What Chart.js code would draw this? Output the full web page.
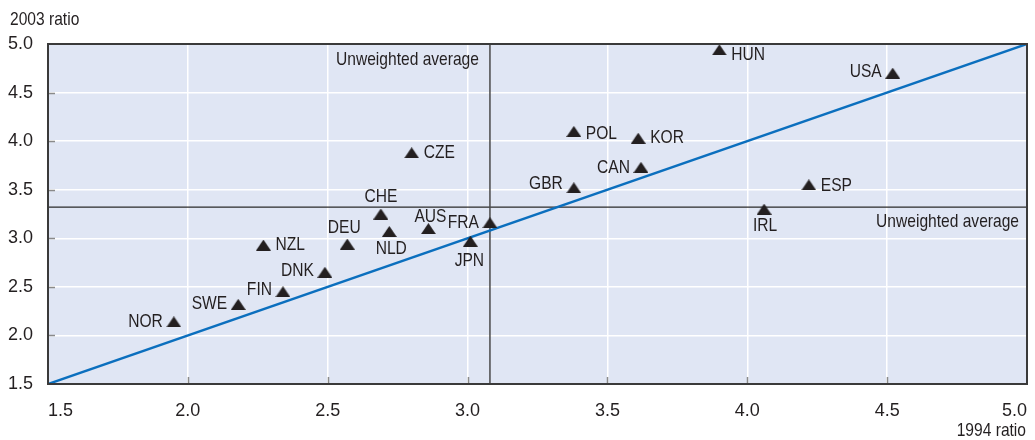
<!DOCTYPE html>
<html>
<head>
<meta charset="utf-8">
<script src="https://cdn.jsdelivr.net/npm/chart.js@4/dist/chart.umd.min.js"></script>
<style>
  html, body { margin: 0; padding: 0; background: #ffffff; }
  #wrap { width: 1035px; height: 440px; }
</style>
</head>
<body>
<div id="wrap"><canvas id="c" width="1035" height="440"></canvas></div>
<script>
// ---- Data ----
const countries = ['HUN','USA','POL','KOR','CZE','CAN','GBR','ESP','IRL','CHE','FRA','NLD','AUS','DEU','NZL','JPN','DNK','FIN','SWE','NOR'];
const ratio1994 = [3.90, 4.52, 3.38, 3.61, 2.80, 3.62, 3.38, 4.22, 4.06, 2.69, 3.08, 2.72, 2.86, 2.57, 2.27, 3.01, 2.49, 2.34, 2.18, 1.95];
const ratio2003 = [4.94, 4.70, 4.10, 4.03, 3.88, 3.73, 3.52, 3.55, 3.30, 3.25, 3.16, 3.07, 3.10, 2.94, 2.93, 2.97, 2.65, 2.45, 2.32, 2.14];
const avg1994 = 3.08;
const avg2003 = 3.32;
const axisMin = 1.5, axisMax = 5.0, axisStep = 0.5;
const xTitle = '1994 ratio';
const yTitle = '2003 ratio';
const avgLabel = 'Unweighted average';

// ---- Label placement (style only) ----
const labelPlace = ['r','l','r','r','r','l','l','r','b','t','l','b','t','t','r','b','l','l','l','l'];
const labelDy    = [5, -1, 2, 0, 0, 0, -4, 1, 16.5, -17, 0, 17, -12, -16, 0, 19.5, -2, -2, -1, 0];
const labelDx    = [0, 0, 0, 0, 0, 0, 0, 0, 1, 0, 0, 2, 2, -3, 0, -1, 0, 0, 0, 0];

const FONT = '"Liberation Sans", Arial, sans-serif';
const FSIZE = 19;
const SX = 0.82; // horizontal condensing of annotation text
const TXT = '#231f20';

// triangle marker image
const tri = document.createElement('canvas');
tri.width = 15; tri.height = 11;
(function(){
  const t = tri.getContext('2d');
  t.fillStyle = TXT;
  t.beginPath();
  t.moveTo(7.5, 0); t.lineTo(15, 11); t.lineTo(0, 11); t.closePath();
  t.fill();
})();

const pts = countries.map((c, i) => ({ x: ratio1994[i], y: ratio2003[i] }));

function narrowText(ctx, text, x, y, align) {
  ctx.save();
  ctx.translate(x, y);
  ctx.scale(SX, 1);
  ctx.textAlign = align;
  ctx.fillText(text, 0, 0);
  ctx.restore();
}

const decor = {
  id: 'decor',
  beforeDraw(chart) {
    const { ctx, chartArea: a } = chart;
    ctx.save();
    ctx.fillStyle = '#e0e6f4';
    ctx.fillRect(a.left, a.top, a.right - a.left, a.bottom - a.top);
    ctx.restore();
  },
  afterDraw(chart) {
    const { ctx, chartArea: a, scales } = chart;
    const xs = scales.x, ys = scales.y;
    ctx.save();
    // inner tick marks
    ctx.strokeStyle = '#8a8a8a';
    ctx.lineWidth = 1.5;
    for (let v = axisMin + axisStep; v < axisMax - 1e-9; v += axisStep) {
      const px = Math.round(xs.getPixelForValue(v)) + 0.5;
      ctx.beginPath(); ctx.moveTo(px, a.bottom); ctx.lineTo(px, a.bottom - 7); ctx.stroke();
      const py = Math.round(ys.getPixelForValue(v)) + 0.5;
      ctx.beginPath(); ctx.moveTo(a.left, py); ctx.lineTo(a.left + 7, py); ctx.stroke();
    }
    // frame
    ctx.strokeStyle = '#3a3a3a';
    ctx.lineWidth = 2;
    ctx.strokeRect(a.left, a.top, a.right - a.left, a.bottom - a.top);

    // country labels
    ctx.font = FSIZE + 'px ' + FONT;
    ctx.fillStyle = TXT;
    ctx.textBaseline = 'middle';
    countries.forEach((c, i) => {
      const px = xs.getPixelForValue(ratio1994[i]) + labelDx[i];
      const py = ys.getPixelForValue(ratio2003[i]) + labelDy[i];
      const p = labelPlace[i];
      if (p === 'r') narrowText(ctx, c, px + 12, py, 'left');
      else if (p === 'l') narrowText(ctx, c, px - 11, py, 'right');
      else narrowText(ctx, c, px, py, 'center');
    });

    // average labels
    ctx.textBaseline = 'alphabetic';
    narrowText(ctx, avgLabel, xs.getPixelForValue(avg1994) - 11, a.top + 21, 'right');
    narrowText(ctx, avgLabel, a.right - 8, ys.getPixelForValue(avg2003) + 20, 'right');

    // axis titles
    narrowText(ctx, yTitle, 10, 25, 'left');
    narrowText(ctx, xTitle, 1026, 436, 'right');
    ctx.restore();
  }
};

const tickFont = { family: FONT, size: 18 };

new Chart(document.getElementById('c'), {
  type: 'scatter',
  data: {
    datasets: [
      {
        label: 'Countries',
        data: pts,
        pointStyle: tri,
        pointRadius: 7,
        pointHoverRadius: 7,
        order: 0
      },
      {
        type: 'line',
        label: 'diag',
        data: [{ x: axisMin, y: axisMin }, { x: axisMax, y: axisMax }],
        borderColor: '#0b6fbe',
        borderWidth: 2.5,
        pointRadius: 0,
        order: 1
      },
      {
        type: 'line',
        label: 'avgX',
        data: [{ x: avg1994, y: axisMin }, { x: avg1994, y: axisMax }],
        borderColor: '#4a4a4a',
        borderWidth: 1.5,
        pointRadius: 0,
        order: 2
      },
      {
        type: 'line',
        label: 'avgY',
        data: [{ x: axisMin, y: avg2003 }, { x: axisMax, y: avg2003 }],
        borderColor: '#2a2a2a',
        borderWidth: 1.3,
        pointRadius: 0,
        order: 3
      }
    ]
  },
  options: {
    responsive: false,
    devicePixelRatio: 1,
    animation: false,
    events: [],
    layout: { padding: { top: 44, right: 4.5, left: 0, bottom: 0 } },
    plugins: { legend: { display: false }, tooltip: { enabled: false } },
    scales: {
      x: {
        type: 'linear',
        min: axisMin, max: axisMax,
        afterFit(s) { s.height = 56; s.paddingLeft = 0; s.paddingRight = 0; },
        border: { display: false },
        grid: { color: '#ffffff', lineWidth: 1.5, drawTicks: false },
        ticks: {
          stepSize: axisStep,
          align: 'inner',
          padding: 16,
          color: TXT,
          font: tickFont,
          callback: v => v.toFixed(1)
        }
      },
      y: {
        type: 'linear',
        min: axisMin, max: axisMax,
        afterFit(s) { s.width = 48; s.paddingTop = 0; s.paddingBottom = 0; },
        border: { display: false },
        grid: { color: '#ffffff', lineWidth: 1.5, drawTicks: false },
        ticks: {
          stepSize: axisStep,
          padding: 15,
          color: TXT,
          font: tickFont,
          callback: v => v.toFixed(1)
        }
      }
    }
  },
  plugins: [decor]
});
</script>
</body>
</html>
